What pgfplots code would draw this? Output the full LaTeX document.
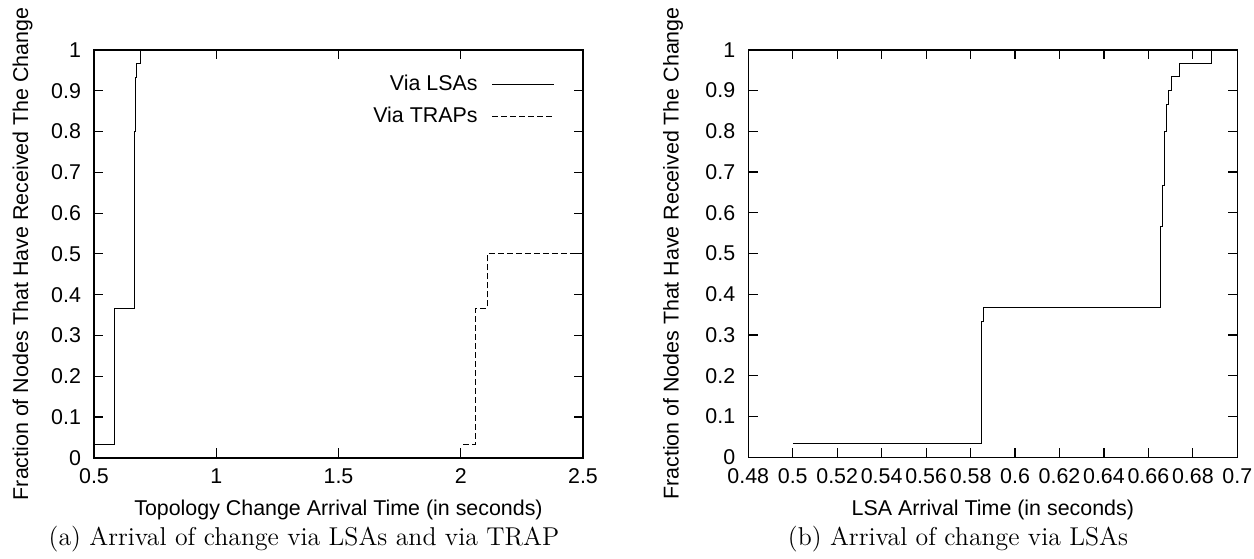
\documentclass[border=0pt]{standalone}
\usepackage{fontspec}
\usepackage{pgfplots}
\pgfplotsset{compat=1.18}
\setsansfont{Liberation Sans}
\newcommand\lab{\sffamily\fontsize{10.7}{12.5}\selectfont}
\newcommand\capf{\rmfamily\fontsize{12.9}{15}\selectfont}

\pgfplotstableread{
x y
0.5    0.0333
0.585  0.3333
0.5857 0.3667
0.6654 0.5667
0.6663 0.6667
0.6672 0.8
0.6682 0.8667
0.6690 0.9
0.6703 0.9333
0.6739 0.9667
0.6882 1.0
}\lsadata

\pgfplotstableread{
x y
2.010 0.0333
2.061 0.3667
2.109 0.5
2.600 0.5
}\trapdata

\pgfplotsset{
  myaxis/.style={
    scale only axis, width=244.5pt, height=203.8pt,
    anchor=south west,
    ymin=0, ymax=1,
    ytick={0,0.1,0.2,0.3,0.4,0.5,0.6,0.7,0.8,0.9,1},
    yticklabels={0,0.1,0.2,0.3,0.4,0.5,0.6,0.7,0.8,0.9,1},
    tick align=inside,
    major tick length=4.6pt,
    axis line style={line width=0.8pt},
    every tick/.style={line width=0.6pt, black},
    ticklabel style={font=\lab},
    label style={font=\lab},
    /pgf/number format/assume math mode=true,
    yticklabel style={xshift=-3pt},
    xticklabel style={yshift=-2pt},
    ylabel={Fraction of Nodes That Have Received The Change},
    clip=true,
  }
}

\begin{document}
\begin{tikzpicture}
\path[use as bounding box] (0,0) rectangle (627pt,279pt);

\begin{axis}[myaxis, at={(47pt,50.15pt)},
  xmin=0.5, xmax=2.5,
  xtick={0.5,1,1.5,2,2.5}, xticklabels={0.5,1,1.5,2,2.5},
  xlabel={Topology Change Arrival Time (in seconds)},
  xlabel style={at={(axis description cs:0.5,-0.129)}, anchor=center},
  ylabel style={at={(axis description cs:-0.146,0.5)}, anchor=center},
  legend style={draw=none, fill=none, font=\lab, legend cell align=right,
    at={(axis description cs:0.955,0.96)}, anchor=north east, row sep=3pt},
  legend plot pos=right,
  legend image code/.code={\path (0pt,0pt); \draw[#1] (5pt,0pt) -- (36pt,0pt);},
]
\addplot[const plot, black, line width=0.5pt] table[x=x,y=y] {\lsadata};
\addlegendentry{Via LSAs}
\addplot[const plot, black, line width=0.5pt, dash pattern=on 3pt off 1.5pt] table[x=x,y=y] {\trapdata};
\addlegendentry{Via TRAPs}
\end{axis}

\begin{axis}[myaxis, at={(374.15pt,50.35pt)},
  xmin=0.48, xmax=0.7,
  xtick={0.48,0.5,0.52,0.54,0.56,0.58,0.6,0.62,0.64,0.66,0.68,0.7},
  xticklabels={0.48,0.5,0.52,0.54,0.56,0.58,0.6,0.62,0.64,0.66,0.68,0.7},
  xlabel={LSA Arrival Time (in seconds)},
  xlabel style={at={(axis description cs:0.5,-0.129)}, anchor=center},
  ylabel style={at={(axis description cs:-0.154,0.5)}, anchor=center},
]
\addplot[const plot, black, line width=0.5pt] table[x=x,y=y] {\lsadata};
\end{axis}

\node[font=\capf, anchor=center] at (152pt,9.5pt) {(a) Arrival of change via LSAs and via TRAP};
\node[font=\capf, anchor=center] at (479pt,9.5pt) {(b) Arrival of change via LSAs};
\end{tikzpicture}
\end{document}
